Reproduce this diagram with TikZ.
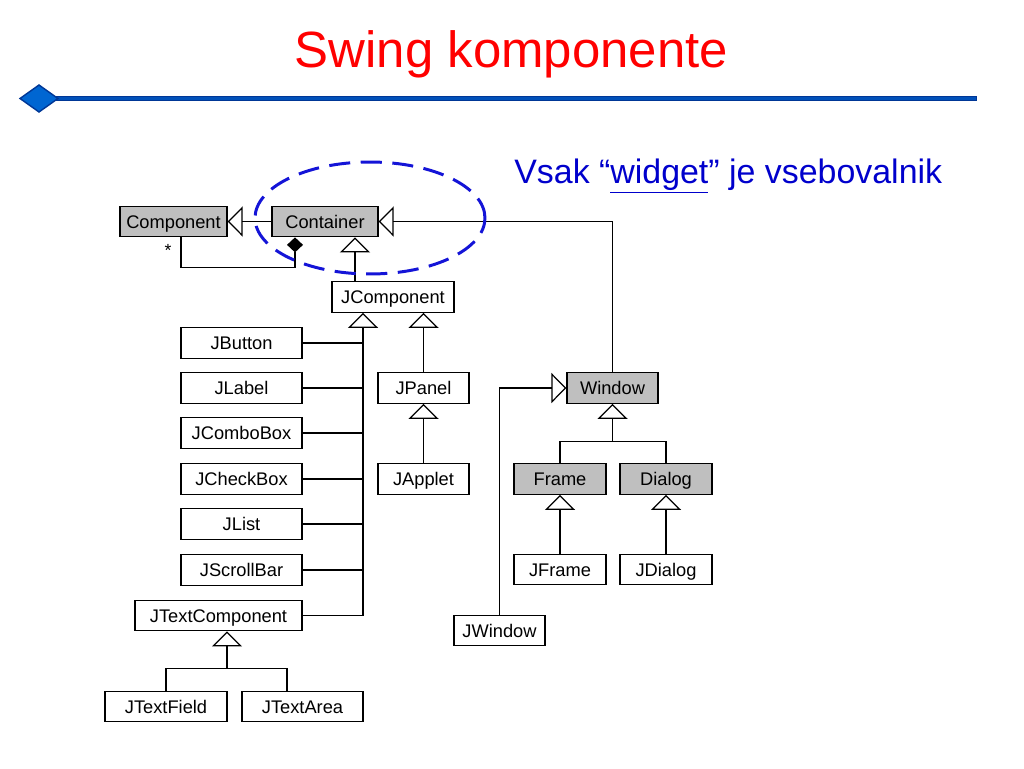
\documentclass[tikz,border=0pt]{standalone}
\usepackage{fontspec}
\setmainfont{Liberation Sans}
\usepackage{tikz}
\usetikzlibrary{arrows.meta}
\usepackage{xcolor}

\definecolor{titlered}{RGB}{255,0,0}
\definecolor{noteblue}{RGB}{0,0,204}
\definecolor{barblue}{RGB}{0,80,185}
\definecolor{bardark}{RGB}{0,55,150}
\definecolor{diafill}{RGB}{0,102,210}
\definecolor{ovalblue}{RGB}{20,20,215}

\begin{document}
\begin{tikzpicture}[x=0.02cm,y=-0.02cm,
  cls/.style={draw,line width=0.7pt,fill=white,minimum height=0.61cm,minimum width=#1,inner sep=0pt,text height=7.4pt,text depth=0pt,font=\fontsize{10.4}{12}\selectfont},
  abs/.style={cls=#1,fill=black!25},
  inh/.style={draw,line width=0.7pt,-{Triangle[open,length=0.3cm,width=0.6cm]}},
  lnk/.style={draw,line width=0.7pt}]
\useasboundingbox (0,0) rectangle (1024,768);
\node[font=\fontsize{29}{34}\selectfont,text=titlered,anchor=base] (title) at (511.5,67) {Swing komponente};
\draw[bardark,line width=3.2pt] (40,98.5) -- (977,98.5);
\draw[barblue,line width=1.6pt] (40,98.5) -- (976,98.5);
\filldraw[fill=diafill,draw=bardark,line width=0.8pt] (20,98.5) -- (39,85) -- (58,98.5) -- (39,112) -- cycle;
\node[anchor=base west,text=noteblue,font=\fontsize{19.3}{23}\selectfont,inner sep=0pt] (note) at (514,183) {Vsak “\underline{widget}” je vsebovalnik};

\node[abs=2.14cm] (component) at (173.5,221.5) {Component};
\node[abs=2.12cm] (container) at (325,221.5) {Container};
\node[cls=2.44cm] (jcomponent) at (393,297) {JComponent};
\node[cls=2.42cm] (jbutton) at (241.5,343) {JButton};
\node[cls=2.42cm] (jlabel) at (241.5,388) {JLabel};
\node[cls=2.42cm] (jcombobox) at (241.5,433) {JComboBox};
\node[cls=2.42cm] (jcheckbox) at (241.5,479) {JCheckBox};
\node[cls=2.42cm] (jlist) at (241.5,524) {JList};
\node[cls=2.42cm] (jscrollbar) at (241.5,570) {JScrollBar};
\node[cls=3.34cm] (jtextcomponent) at (218.5,615.5) {JTextComponent};
\node[cls=2.44cm] (jtextfield) at (166,706.5) {JTextField};
\node[cls=2.42cm] (jtextarea) at (302.5,706.5) {JTextArea};
\node[cls=1.82cm] (jpanel) at (423.5,388) {JPanel};
\node[cls=1.82cm] (japplet) at (423.5,479) {JApplet};
\node[abs=1.82cm] (window) at (612.5,388) {Window};
\node[abs=1.84cm] (frame) at (560,479) {Frame};
\node[abs=1.84cm] (dialog) at (666,479) {Dialog};
\node[cls=1.84cm] (jframe) at (560,569.5) {JFrame};
\node[cls=1.84cm] (jdialog) at (666,569.5) {JDialog};
\node[cls=1.82cm] (jwindow) at (499.5,630.5) {JWindow};
\node[font=\fontsize{10}{12}\selectfont] (many) at (168,250) {*};

\coordinate (own) at ([xshift=-0.6cm]container.south);
\coordinate (part) at ([xshift=0.15cm]component.south);
\coordinate (sup) at ([xshift=0.6cm]container.south);
\coordinate (bus) at ([xshift=-0.6cm]jcomponent.south);
\coordinate (tsup) at ([xshift=0.17cm]jtextcomponent.south);
\coordinate (tbend) at ([yshift=-0.74cm]tsup);
\coordinate (wbend) at ([yshift=-0.76cm]window.south);

\draw[inh] (container.west) -- (component.east);
\draw[lnk,{Diamond[length=0.3cm,width=0.32cm]}-] (own) -- ([yshift=-0.6cm]own) -| (part);
\draw[inh] (window.north) |- (container.east);
\draw[inh] (jcomponent.north -| sup) -- (sup);
\draw[inh] (jtextcomponent.east) -| (bus);
\foreach \n in {jbutton,jlabel,jcombobox,jcheckbox,jlist,jscrollbar}
  \draw[lnk] (\n.east) -- (\n.east -| bus);
\draw[inh] (jpanel.north) -- (jpanel.north |- jcomponent.south);
\draw[inh] (japplet.north) -- (jpanel.south);
\draw[inh] (jtextfield.north) |- (tbend) -- (tsup);
\draw[lnk] ([xshift=-0.31cm]jtextarea.north) |- (tbend);
\draw[inh] (frame.north) |- (wbend) -- (window.south);
\draw[lnk] (dialog.north) |- (wbend);
\draw[inh] (jframe.north) -- (frame.south);
\draw[inh] (jdialog.north) -- (dialog.south);
\draw[inh] (jwindow.north) |- (window.west);

\draw[ovalblue,line width=1.7pt,dash pattern=on 12pt off 6pt] (370,218) ellipse [x radius=2.3cm,y radius=1.12cm];
\end{tikzpicture}
\end{document}
